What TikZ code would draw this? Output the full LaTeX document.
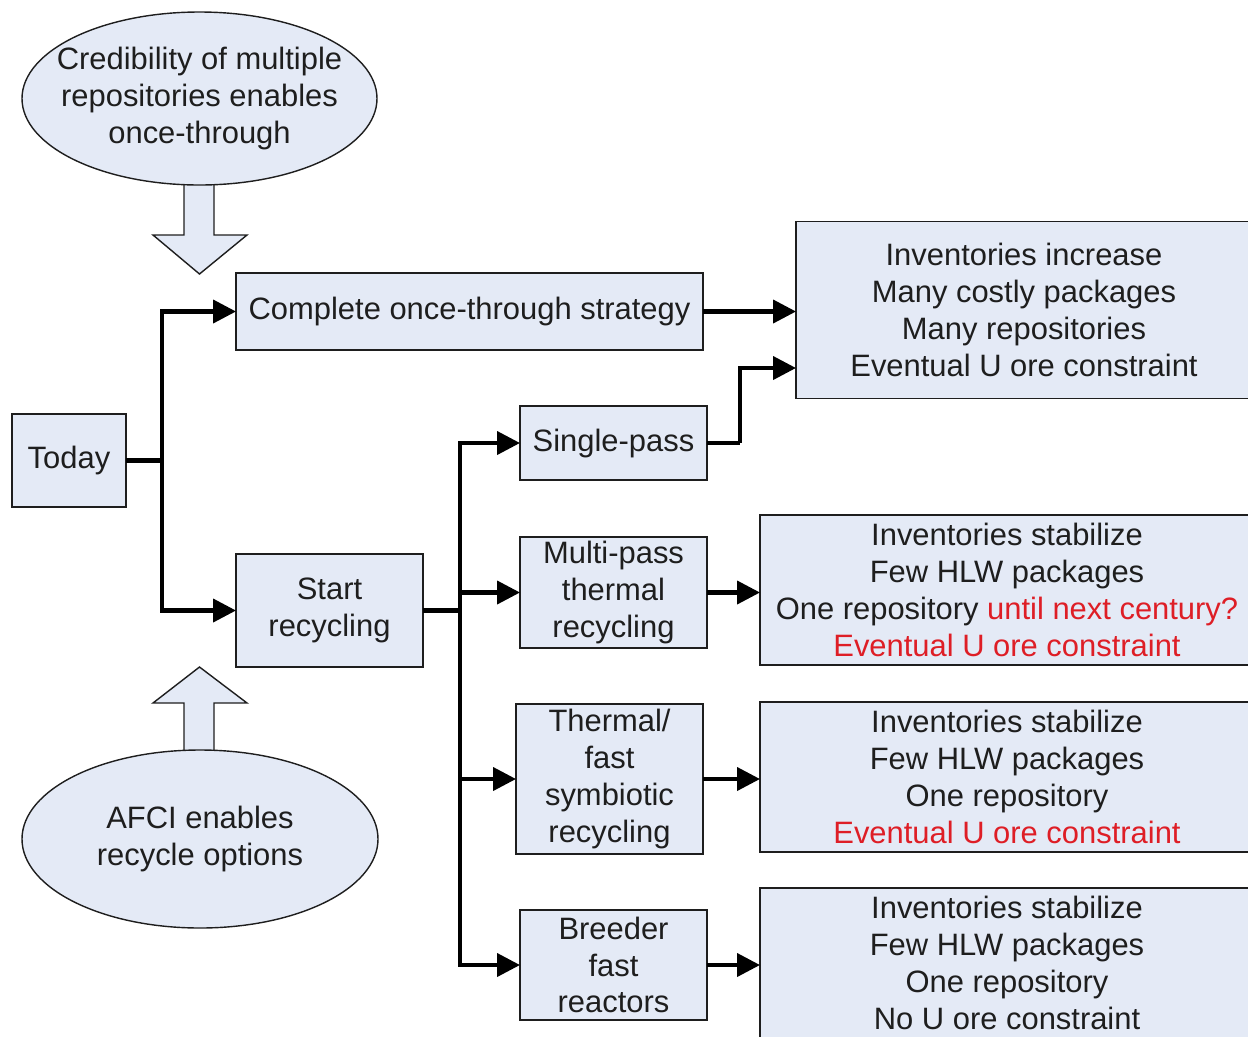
\documentclass[tikz,border=0pt]{standalone}
\usepackage{fontspec}
\setmainfont{Liberation Sans}
\usetikzlibrary{shapes.geometric,arrows.meta,calc}
\newlength\upx \setlength\upx{0.02cm}
\definecolor{boxfill}{RGB}{228,234,246}
\definecolor{alert}{RGB}{222,30,38}
\definecolor{ink}{RGB}{30,30,30}
\begin{document}
\begin{tikzpicture}[x=0.02cm,y=-0.02cm,
  every node/.style={font=\fontsize{17.6pt}{21pt}\selectfont, text=ink},
  blk/.style={draw=ink, line width=0.8pt, fill=boxfill, inner sep=0pt, outer sep=0pt, align=center},
  ell/.style={blk, ellipse},
  conn/.style={line width=2.3pt, draw=black, -{Triangle[length=13pt,width=13pt]}},
  wire/.style={line width=2.3pt, draw=black},
  fat/.style={draw=ink, line width=0.8pt, fill=boxfill, line join=miter}]
\useasboundingbox (0,0) rectangle (1248,1036);

% hollow block arrows feeding the two strategies
\filldraw[fat] (184,170) -- (214,170) -- (214,235) -- (247,235) -- (199.5,274)
  -- (153,235) -- (184,235) -- cycle;
\filldraw[fat] (184,765) -- (214,765) -- (214,703) -- (247,703) -- (199.5,667)
  -- (153,703) -- (184,703) -- cycle;

% premises: ellipse outlines with their text set on top
\node[ell, minimum width=355\upx, minimum height=173\upx] (cred) at (199.5,98.5) {};
\node[align=center, inner sep=0pt] (credtext) at (cred.center)
  {Credibility of multiple\\repositories enables\\once-through};
\node[ell, minimum width=356\upx, minimum height=178\upx] (afci) at (200,839) {};
\node[align=center, inner sep=0pt] (afcitext) at (afci.center)
  {AFCI enables\\recycle options};

% decision boxes
\node[blk, minimum width=114\upx, minimum height=93\upx] (today) at (69,460.5) {Today};
\node[blk, minimum width=467\upx, minimum height=77\upx] (once) at (469.5,311.5)
  {Complete once-through strategy};
\node[blk, minimum width=187\upx, minimum height=113\upx] (start) at (329.5,610.5)
  {Start\\recycling};
\node[blk, minimum width=187\upx, minimum height=74\upx] (single) at (613.5,443)
  {Single-pass};
\node[blk, minimum width=187\upx, minimum height=111\upx] (multi) at (613.5,592.5)
  {Multi-pass\\thermal\\recycling};
\node[blk, minimum width=187\upx, minimum height=150\upx] (thermal) at (609.5,779)
  {Thermal/\\fast\\symbiotic\\recycling};
\node[blk, minimum width=187\upx, minimum height=110\upx] (breeder) at (613.5,965)
  {Breeder\\fast\\reactors};

% outcome boxes
\node[blk, minimum width=456\upx, minimum height=177\upx] (res1) at (1024,310)
  {Inventories increase\\Many costly packages\\Many repositories\\Eventual U ore constraint};
\node[blk, minimum width=494\upx, minimum height=150\upx] (res2) at (1007,590)
  {Inventories stabilize\\Few HLW packages\\One repository \textcolor{alert}{until next century?}\\\textcolor{alert}{Eventual U ore constraint}};
\node[blk, minimum width=494\upx, minimum height=150\upx] (res3) at (1007,777)
  {Inventories stabilize\\Few HLW packages\\One repository\\\textcolor{alert}{Eventual U ore constraint}};
\node[blk, minimum width=494\upx, minimum height=150\upx] (res4) at (1007,963)
  {Inventories stabilize\\Few HLW packages\\One repository\\No U ore constraint};

% branching connectors
\coordinate (fork) at (162,460.5);
\coordinate (bus) at (460,610.5);
\coordinate (sbend) at (740,443);
\coordinate (r1low) at (796,368);

\draw[wire] (today.east) -- (fork);
\draw[conn] (fork) |- (once.west);
\draw[conn] (fork) |- (start.west);
\draw[wire] (start.east) -- (bus);
\draw[conn] (bus) |- (single.west);
\draw[conn] (bus) |- (multi.west);
\draw[conn] (bus) |- (thermal.west);
\draw[conn] (bus) |- (breeder.west);

\draw[conn] (once.east) -- (once.east -| res1.west);
\draw[wire] (single.east) -- (sbend);
\draw[conn] (sbend) |- (r1low);
\draw[conn] (multi.east) -- (multi.east -| res2.west);
\draw[conn] (thermal.east) -- (thermal.east -| res3.west);
\draw[conn] (breeder.east) -- (breeder.east -| res4.west);
\end{tikzpicture}
\end{document}
